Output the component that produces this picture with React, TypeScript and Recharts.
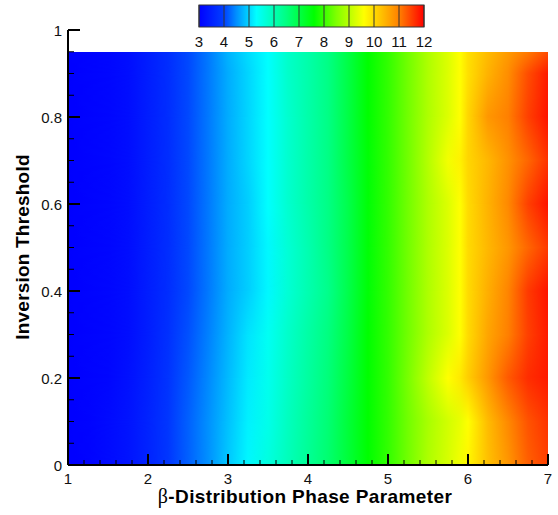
import { ComposedChart, XAxis, YAxis, Scatter, ReferenceArea, Legend, Label } from 'recharts';

// grid of the contour field: columns along the phase parameter, rows along the threshold
const xCols = [1, 1.25, 1.5, 1.75, 2, 2.25, 2.5, 2.75, 3, 3.25, 3.5, 3.75, 4, 4.25, 4.5, 4.75, 5, 5.25, 5.5, 5.75, 5.9, 6, 6.25, 6.5, 6.75, 7];
const yRows = [0, 0.1, 0.2, 0.3, 0.4, 0.5, 0.6, 0.7, 0.8, 0.9, 0.95];

const row00 = [3.0, 3.05, 3.15, 3.3, 3.55, 3.85, 4.2, 4.5, 4.9, 5.25, 5.6, 5.95, 6.3, 6.65, 7.1, 7.6, 7.95, 8.4, 8.9, 9.25, 9.5, 9.7, 10.3, 10.75, 11.25, 11.5];
const row10 = [3.0, 3.05, 3.15, 3.3, 3.55, 3.85, 4.2, 4.5, 4.85, 5.2, 5.5, 5.9, 6.25, 6.6, 7.1, 7.6, 7.95, 8.4, 8.85, 9.2, 9.4, 9.6, 10.35, 10.9, 11.35, 11.6];
const row20 = [3.0, 3.05, 3.1, 3.25, 3.5, 3.8, 4.15, 4.45, 4.8, 5.15, 5.45, 5.85, 6.2, 6.55, 7.05, 7.6, 7.95, 8.45, 9.05, 9.6, 9.85, 10.15, 10.75, 11.3, 11.65, 11.8];
const row30 = [3.0, 3.05, 3.1, 3.2, 3.45, 3.75, 4.1, 4.4, 4.75, 5.1, 5.4, 5.8, 6.15, 6.5, 7.0, 7.6, 7.95, 8.4, 8.9, 9.3, 9.6, 10.0, 10.6, 11.0, 11.5, 11.8];
const row40 = [3.0, 3.05, 3.1, 3.2, 3.45, 3.7, 4.05, 4.35, 4.7, 4.95, 5.25, 5.7, 6.05, 6.4, 6.95, 7.55, 7.95, 8.4, 8.9, 9.3, 9.6, 10.0, 10.5, 10.95, 11.55, 11.85];
const row50 = [3.0, 3.05, 3.1, 3.2, 3.45, 3.7, 4.05, 4.35, 4.7, 4.95, 5.25, 5.7, 6.05, 6.45, 6.95, 7.55, 7.95, 8.4, 8.9, 9.3, 9.6, 10.0, 10.4, 10.75, 11.2, 11.55];
const row60 = [3.0, 3.05, 3.1, 3.2, 3.45, 3.7, 4.05, 4.35, 4.7, 4.95, 5.3, 5.75, 6.1, 6.45, 6.95, 7.55, 7.95, 8.4, 8.9, 9.3, 9.6, 10.0, 10.45, 10.9, 11.5, 11.85];
const row70 = [3.0, 3.05, 3.1, 3.2, 3.45, 3.7, 4.05, 4.35, 4.7, 5.0, 5.3, 5.75, 6.1, 6.45, 7.0, 7.55, 7.95, 8.4, 8.95, 9.5, 9.75, 10.05, 10.4, 10.8, 11.2, 11.6];
const row80 = [3.0, 3.05, 3.1, 3.2, 3.45, 3.7, 4.05, 4.35, 4.7, 5.0, 5.3, 5.75, 6.1, 6.45, 7.0, 7.6, 7.95, 8.4, 8.9, 9.3, 9.6, 10.05, 10.75, 11.0, 11.5, 11.85];
const row90 = [3.0, 3.05, 3.1, 3.2, 3.45, 3.7, 4.05, 4.35, 4.7, 5.0, 5.3, 5.8, 6.1, 6.45, 7.0, 7.6, 7.95, 8.4, 8.9, 9.3, 9.6, 9.95, 10.45, 10.85, 11.4, 11.8];
const row95 = [3.0, 3.05, 3.1, 3.2, 3.45, 3.7, 4.05, 4.35, 4.75, 5.05, 5.3, 5.8, 6.1, 6.45, 7.0, 7.6, 7.95, 8.4, 8.9, 9.3, 9.6, 9.95, 10.35, 10.7, 11.05, 11.4];

const rowValues = [row00, row10, row20, row30, row40, row50, row60, row70, row80, row90, row95];

// rainbow legend levels
const levelStops = [3, 4, 4.5, 5.3, 6.5, 7.6, 8.5, 9.6, 10.3, 11, 12];
const levelColors = ['#0000ff', '#0040ff', '#0090ff', '#00ffff', '#00ff80', '#00ff00', '#80ff00', '#ffff00', '#ffc000', '#ff8000', '#ff0000'];
const barLabels = [3, 4, 5, 6, 7, 8, 9, 10, 11, 12];

const xTicks = [1, 1.2, 1.4, 1.6, 1.8, 2, 2.2, 2.4, 2.6, 2.8, 3, 3.2, 3.4, 3.6, 3.8, 4, 4.2, 4.4, 4.6, 4.8, 5, 5.2, 5.4, 5.6, 5.8, 6, 6.2, 6.4, 6.6, 6.8, 7];
const yTicks = [0, 0.05, 0.1, 0.15, 0.2, 0.25, 0.3, 0.35, 0.4, 0.45, 0.5, 0.55, 0.6, 0.65, 0.7, 0.75, 0.8, 0.85, 0.9, 0.95, 1];

const corners = [{ x: 1, y: 0 }, { x: 7, y: 1 }];

const FONT = '"Liberation Sans", Arial, sans-serif';

function hex(c: string) {
  return [1, 3, 5].map((i) => parseInt(c.slice(i, i + 2), 16));
}

function colorOf(v: number) {
  let k = 0;
  while (k < levelStops.length - 2 && v > levelStops[k + 1]) k++;
  const t = Math.min(1, Math.max(0, (v - levelStops[k]) / (levelStops[k + 1] - levelStops[k])));
  const a = hex(levelColors[k]);
  const b = hex(levelColors[k + 1]);
  const c = a.map((ch, i) => Math.round(ch + (b[i] - ch) * t));
  return `rgb(${c[0]},${c[1]},${c[2]})`;
}

function XTick({ x, y, payload }: any) {
  const v = payload.value;
  const major = Math.abs(v - Math.round(v)) < 1e-6;
  return (
    <g>
      <line x1={x} x2={x} y1={y} y2={y - (major ? 11 : 5)} stroke="#000" strokeWidth={major ? 2 : 1} />
      {major && (
        <text x={x} y={y + 19} textAnchor="middle" fontFamily={FONT} fontSize={15} fill="#111">
          {v}
        </text>
      )}
    </g>
  );
}

function YTick({ x, y, payload }: any) {
  const v = payload.value;
  const major = Math.abs(v * 5 - Math.round(v * 5)) < 1e-6;
  return (
    <g>
      <line x1={x} x2={x + (major ? 12 : 6)} y1={y} y2={y} stroke="#000" strokeWidth={major ? 2 : 1} />
      {major && (
        <text x={x - 6} y={y + 5.5} textAnchor="end" fontFamily={FONT} fontSize={15} fill="#111">
          {v}
        </text>
      )}
    </g>
  );
}

function ColorBar() {
  const x0 = 19;
  const w = 225;
  const step = w / (barLabels.length - 1);
  return (
    <svg width={260} height={54} style={{ display: 'block', overflow: 'visible' }}>
      <defs>
        <linearGradient id="bar-grad" x1="0" y1="0" x2="1" y2="0">
          {levelStops.map((v, i) => (
            <stop key={i} offset={`${((v - 3) / 9) * 100}%`} stopColor={levelColors[i]} />
          ))}
        </linearGradient>
      </defs>
      <rect x={x0} y={5} width={w} height={22} fill="url(#bar-grad)" />
      {barLabels.map((v, i) => (
        <g key={v}>
          <line x1={x0 + i * step} x2={x0 + i * step} y1={5} y2={27} stroke="#333" strokeWidth={1} />
          <text x={x0 + i * step} y={47} textAnchor="middle" fontFamily={FONT} fontSize={15} fill="#111">
            {v}
          </text>
        </g>
      ))}
      <rect x={x0} y={5} width={w} height={22} fill="none" stroke="#333" strokeWidth={1} />
    </svg>
  );
}

// each band is drawn opaque with the lower row, then the upper row fades in over it
function band(fillId: string, masked: boolean) {
  return (p: any) => (
    <rect
      x={p.x}
      y={p.y}
      width={p.width}
      height={p.height}
      fill={`url(#${fillId})`}
      mask={masked ? 'url(#ramp-up)' : undefined}
      shapeRendering="crispEdges"
    />
  );
}

export default function App() {
  const bands = yRows.slice(0, -1).flatMap((y, k) => [
    <ReferenceArea key={`o${k}`} x1={1} x2={7} y1={y} y2={yRows[k + 1]} shape={band(`row-${k}`, false)} />,
    <ReferenceArea key={`m${k}`} x1={1} x2={7} y1={y} y2={yRows[k + 1]} shape={band(`row-${k + 1}`, true)} />,
  ]);

  return (
    <div style={{ position: 'absolute', left: 0, top: 0, background: '#fff' }}>
      <ComposedChart width={558} height={515} margin={{ top: 30, right: 10, bottom: 0, left: 0 }}>
        <defs>
          {rowValues.map((vals, i) => (
            <linearGradient key={i} id={`row-${i}`} x1="0" y1="0" x2="1" y2="0">
              {vals.map((v, j) => (
                <stop key={j} offset={`${((xCols[j] - 1) / 6) * 100}%`} stopColor={colorOf(v)} />
              ))}
            </linearGradient>
          ))}
          <linearGradient id="ramp-grad" x1="0" y1="1" x2="0" y2="0">
            <stop offset="0%" stopColor="#fff" stopOpacity={0} />
            <stop offset="100%" stopColor="#fff" stopOpacity={1} />
          </linearGradient>
          <mask id="ramp-up" maskUnits="objectBoundingBox" maskContentUnits="objectBoundingBox" x="0" y="0" width="1" height="1">
            <rect x="0" y="0" width="1" height="1" fill="url(#ramp-grad)" />
          </mask>
        </defs>
        <Legend
          layout="horizontal"
          verticalAlign="middle"
          align="center"
          wrapperStyle={{ top: 0, left: 180, width: 260, height: 54 }}
          content={() => <ColorBar />}
        />
        {bands}
        <Scatter data={corners} dataKey="y" shape={() => <g />} isAnimationActive={false} />
        <XAxis
          type="number"
          dataKey="x"
          domain={[1, 7]}
          ticks={xTicks}
          interval={0}
          allowDataOverflow
          height={50}
          tickSize={0}
          tickMargin={0}
          tickLine={false}
          axisLine={{ stroke: '#000', strokeWidth: 2 }}
          tick={<XTick />}
        >
          <Label
            content={() => (
              <text x={305} y={503} textAnchor="middle" fontFamily={FONT} fontSize={19} fontWeight="bold" letterSpacing={0.4} fill="#000">
                <tspan fontFamily='"Liberation Serif", serif' fontWeight="normal" fontSize={20}>β</tspan>
                <tspan>-Distribution Phase Parameter</tspan>
              </text>
            )}
          />
        </XAxis>
        <YAxis
          type="number"
          dataKey="y"
          domain={[0, 1]}
          ticks={yTicks}
          interval={0}
          allowDataOverflow
          width={68}
          tickSize={0}
          tickMargin={0}
          tickLine={false}
          axisLine={{ stroke: '#000', strokeWidth: 2 }}
          tick={<YTick />}
        >
          <Label
            content={() => (
              <text
                transform="translate(29,247) rotate(-90)"
                textAnchor="middle"
                fontFamily={FONT}
                fontSize={19}
                fontWeight="bold"
                letterSpacing={0.2}
                fill="#000"
              >
                Inversion Threshold
              </text>
            )}
          />
        </YAxis>
      </ComposedChart>
    </div>
  );
}
